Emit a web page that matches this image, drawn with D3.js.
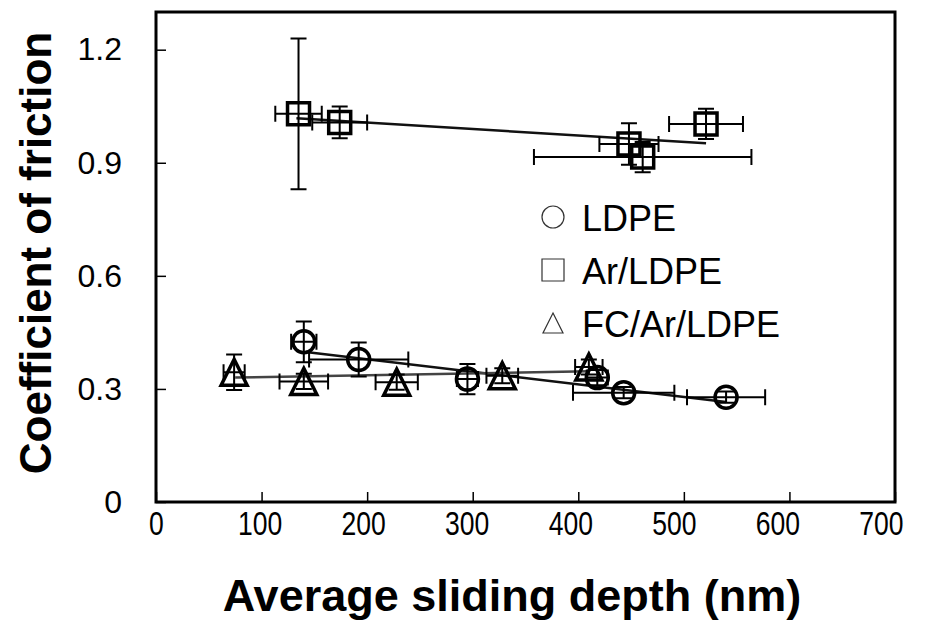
<!DOCTYPE html>
<html>
<head>
<meta charset="utf-8">
<script src="https://cdn.jsdelivr.net/npm/d3@7"></script>
<style>
    body { margin: 0; background: #fff; }
    text { font-family: "Liberation Sans", Arial, sans-serif; fill: #000; }
</style>
</head>
<body>
<svg id="chart" width="930" height="628"></svg>
<script>
// axis ticks
const xTicks = [0, 100, 200, 300, 400, 500, 600, 700];
const yTicks = [0, 0.3, 0.6, 0.9, 1.2];
const yTickLabels = ["0", "0.3", "0.6", "0.9", "1.2"];
const seriesNames = ["LDPE", "Ar/LDPE", "FC/Ar/LDPE"];

// LDPE (circles)
const ldpeDepth = [140, 192, 295, 418, 443, 540];
const ldpeFriction = [0.425, 0.378, 0.326, 0.330, 0.290, 0.278];
const ldpeDepthErr = [12, 47, 10, 10, 48, 37];
const ldpeFrictionErr = [0.054, 0.045, 0.04, 0.02, 0.015, 0.015];
const ldpeFit = [[142, 0.398], [540, 0.265]];

// Ar/LDPE (squares)
const arDepth = [135, 174, 448, 461, 521];
const arFriction = [1.030, 1.007, 0.950, 0.915, 1.003];
const arDepthErr = [22, 26, 28, 103, 35];
const arFrictionErr = [0.20, 0.042, 0.055, 0.04, 0.04];
const arFit = [[133, 1.018], [521, 0.952]];

// FC/Ar/LDPE (triangles)
const fcDepth = [74, 140, 228, 328, 410];
const fcFriction = [0.344, 0.320, 0.318, 0.335, 0.358];
const fcDepthErr = [10, 23, 20, 15, 13];
const fcFrictionErr = [0.047, 0.02, 0.02, 0.02, 0.02];
const fcFit = [[75, 0.330], [410, 0.347]];

const svg = d3.select("#chart");
const plot = { left: 156, right: 895, top: 12, bottom: 502 };

const x = d3.scaleLinear().domain([0, 700]).range([plot.left, plot.right]);
const y = d3.scaleLinear().domain([0, 1.3]).range([plot.bottom, plot.top]);

const series = [
    { name: seriesNames[0], shape: "circle", xs: ldpeDepth, ys: ldpeFriction, xe: ldpeDepthErr, ye: ldpeFrictionErr, fit: ldpeFit, fitColor: "#111" },
    { name: seriesNames[1], shape: "square", xs: arDepth, ys: arFriction, xe: arDepthErr, ye: arFrictionErr, fit: arFit, fitColor: "#111" },
    { name: seriesNames[2], shape: "triangle", xs: fcDepth, ys: fcFriction, xe: fcDepthErr, ye: fcFrictionErr, fit: fcFit, fitColor: "#444" }
];

// marker path for a given shape, centered on 0,0
function markerPath(shape, size) {
    const h = size / 2;
    if (shape === "circle") {
        const p = d3.path();
        p.moveTo(h, 0);
        p.arc(0, 0, h, 0, 2 * Math.PI);
        p.closePath();
        return p.toString();
    }
    if (shape === "square") {
        return `M${-h},${-h}H${h}V${h}H${-h}Z`;
    }
    return `M0,${-h}L${h},${h}L${-h},${h}Z`;
}

// axes (ticks point inward)
const xAxis = d3.axisBottom(x).tickValues(xTicks).tickSize(-10).tickPadding(9).tickFormat(d3.format("d"));
const yAxis = d3.axisLeft(y).tickValues(yTicks).tickSize(-10).tickPadding(34).tickFormat((d, i) => yTickLabels[i]);

const gx = svg.append("g").attr("transform", `translate(0,${plot.bottom})`).call(xAxis);
const gy = svg.append("g").attr("transform", `translate(${plot.left},0)`).call(yAxis);
[gx, gy].forEach((g) => {
    g.select(".domain").remove();
    g.selectAll(".tick line").attr("stroke", "#000").attr("stroke-width", 1.5);
    g.selectAll(".tick text").style("font-size", "32px").attr("fill", "#000");
});
// x tick labels are narrower in the original and drift a little left of their ticks
gx.selectAll(".tick text")
    .style("font-size", "34px")
    .attr("transform", (d) => `translate(${-d * 0.02},0) scale(0.78,1)`);

// frame
svg.append("rect")
    .attr("x", plot.left)
    .attr("y", plot.top)
    .attr("width", plot.right - plot.left)
    .attr("height", plot.bottom - plot.top)
    .attr("fill", "none")
    .attr("stroke", "#000")
    .attr("stroke-width", 3);

// fitted trend lines
const line = d3.line().x((d) => x(d[0])).y((d) => y(d[1]));
svg.append("g")
    .selectAll("path")
    .data(series)
    .join("path")
    .attr("d", (s) => line(s.fit))
    .attr("fill", "none")
    .attr("stroke", (s) => s.fitColor)
    .attr("stroke-width", 2.5);

// error bars and markers
const cap = 8;
series.forEach((s) => {
    const pts = s.xs.map((v, i) => ({ x: v, y: s.ys[i], xe: s.xe[i], ye: s.ye[i] }));
    const g = svg.append("g").attr("stroke", "#000").attr("stroke-width", 2).attr("fill", "none");
    g.selectAll("path.err")
        .data(pts)
        .join("path")
        .attr("class", "err")
        .attr("d", (d) => {
            const cx = x(d.x), cy = y(d.y);
            const x0 = x(d.x - d.xe), x1 = x(d.x + d.xe);
            const y0 = y(d.y - d.ye), y1 = y(d.y + d.ye);
            return `M${x0},${cy}H${x1}M${x0},${cy - cap}V${cy + cap}M${x1},${cy - cap}V${cy + cap}` +
                `M${cx},${y0}V${y1}M${cx - cap},${y0}H${cx + cap}M${cx - cap},${y1}H${cx + cap}`;
        });
    g.selectAll("path.mark")
        .data(pts)
        .join("path")
        .attr("class", "mark")
        .attr("transform", (d) => `translate(${x(d.x)},${y(d.y)})`)
        .attr("d", markerPath(s.shape, s.shape === "triangle" ? 26 : 22))
        .attr("stroke-width", 3.5);
});

// legend
const legend = svg.append("g").attr("transform", "translate(553,217)");
const rows = legend.selectAll("g").data(series).join("g").attr("transform", (d, i) => `translate(0,${i * 53})`);
rows.append("path")
    .attr("d", (d) => markerPath(d.shape, d.shape === "triangle" ? 20 : 22))
    .attr("fill", "none")
    .attr("stroke", "#333")
    .attr("stroke-width", 1.2);
rows.append("text")
    .attr("x", 29)
    .attr("y", 14)
    .style("font-size", "36px")
    .text((d) => d.name);

// axis titles
svg.append("text")
    .attr("x", 512)
    .attr("y", 611)
    .attr("text-anchor", "middle")
    .style("font-size", "45px")
    .style("font-weight", "bold")
    .text("Average sliding depth (nm)");

svg.append("text")
    .attr("transform", "translate(51,253) rotate(-90)")
    .attr("text-anchor", "middle")
    .style("font-size", "44px")
    .style("font-weight", "bold")
    .text("Coefficient of friction");
</script>
</body>
</html>
